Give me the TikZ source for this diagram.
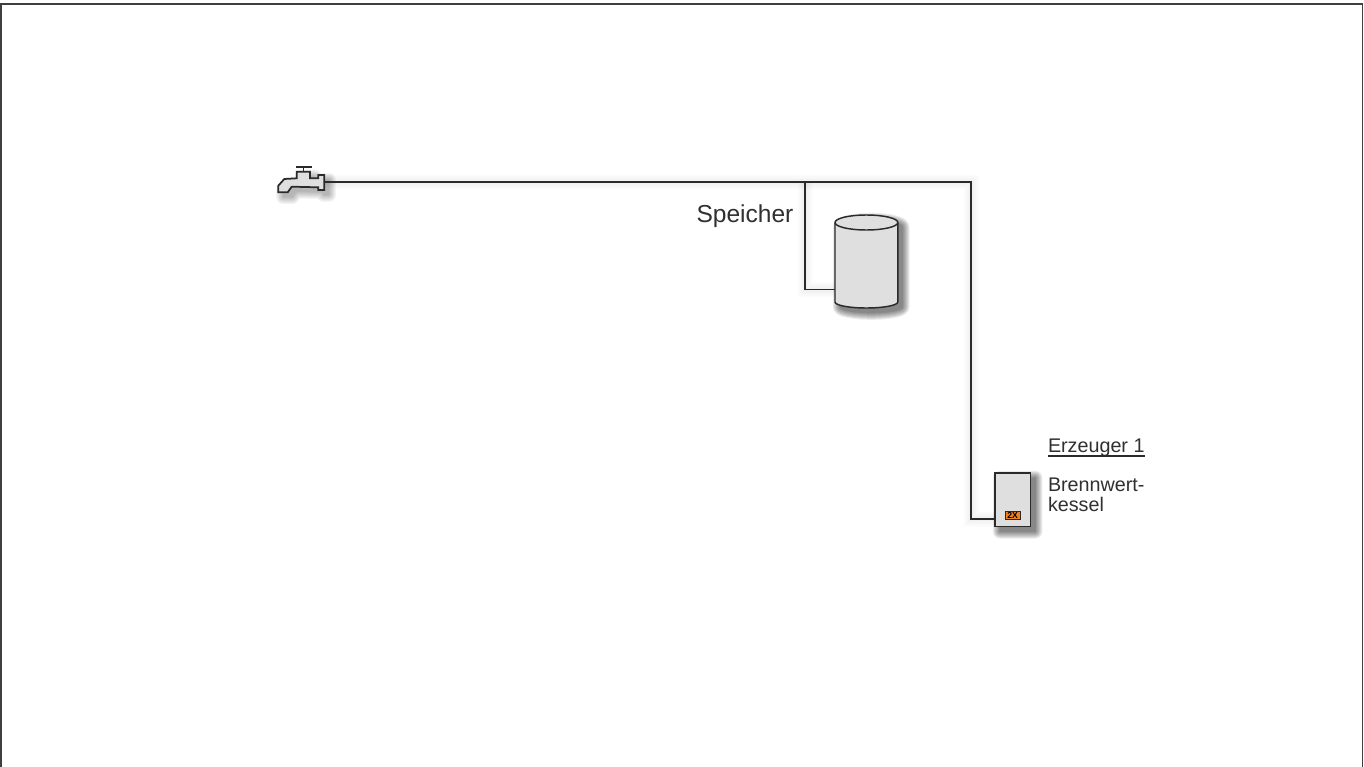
\documentclass[tikz,border=0pt]{standalone}
\usepackage{fontspec}
\setmainfont{Liberation Sans}
\definecolor{ink}{HTML}{2A2A2A}
\definecolor{txt}{HTML}{303030}
\definecolor{body}{HTML}{DFDFDF}
\definecolor{heat}{HTML}{F08020}
\tikzset{
  pipe/.style={draw=ink,line width=1.1pt,line join=miter},
  frameline/.style={draw=ink!90,line width=1.2pt},
  outline/.style={draw=ink,line width=1.1pt,fill=body,line join=miter},
  label/.style={inner sep=0pt,outer sep=0pt,text=txt,anchor=base west},
}
% soft drop shadow of a line or a shape, built from translucent layers
\newcommand{\softline}[2]{%
  \foreach \w in {15,12,9,6,3}{\path[draw=black,opacity=#2,line width=\w*0.75pt,xshift=4.5pt,yshift=-5.5pt] #1;}}
\newcommand{\softshape}[2]{%
  \foreach \w in {14,12,10,8,6,4,2,0.5}{\begin{scope}[transparency group,opacity=#2,xshift=3.6pt,yshift=-3.6pt]\path[draw=black,fill=black,line width=\w*0.75pt,line join=round] #1;\end{scope}}}
\begin{document}
\begin{tikzpicture}[x=0.75pt,y=-0.75pt]
\useasboundingbox (0,0) rectangle (1364,767);
\fill[white] (0,0) rectangle (1364,767);

% coordinates of the pipe run
\coordinate (tapout) at (324.5,182);
\coordinate (branch) at (805,182);
\coordinate (corner) at (971,182);
\coordinate (tankin) at (835,289.5);
\coordinate (boilin) at (995,519);
\coordinate (frameTL) at (1.2,4);
\coordinate (frameTR) at (1362.5,4);
\coordinate (frameBL) at (1.2,767);
\coordinate (frameBR) at (1362.5,767);

% shadows
\softline{(tapout) -- (corner) -- (corner |- boilin) -- (boilin)}{0.01}
\softline{(branch) -- (branch |- tankin) -- (tankin)}{0.01}
\softshape{(835,222.5) -- (835,302) arc[start angle=180,end angle=0,x radius=31.4,y radius=6] -- (897.8,222.5) arc[start angle=0,end angle=-180,x radius=31.4,y radius=7.5] -- cycle}{0.075}
\softshape{(995,473) rectangle (1030.5,526.7)}{0.075}
\softshape{(278.3,192.3) -- (278.3,185.7) -- (284.3,179) -- (296.7,178.3) -- (296.7,171.7) -- (310,171.7) -- (310,178.3) -- (318.3,178.3) -- (318.3,175) -- (324.3,175) -- (324.3,190) -- (318.3,190) -- (318.3,187.3) -- (291.7,186.7) -- (287.7,192.3) -- cycle}{0.04}

% frame
\draw[frameline] (frameBL) -- (frameTL) -- (frameTR) -- (frameBR);

% pipes
\draw[pipe] (tapout) -- (corner) -- (corner |- boilin) -- (boilin);
\draw[pipe] (branch) -- (branch |- tankin) -- (tankin);

% tap
\node[inner sep=0pt,minimum size=0pt] (tap) at (301,180) {};
\draw[outline,line width=1.3pt] (278.3,192.3) -- (278.3,185.7) -- (284.3,179) -- (296.7,178.3) -- (296.7,171.7) -- (310,171.7) -- (310,178.3) -- (318.3,178.3) -- (318.3,175) -- (324.3,175) -- (324.3,190) -- (318.3,190) -- (318.3,187.3) -- (291.7,186.7) -- (287.7,192.3) -- cycle;
\draw[pipe,line width=1.3pt] (303.5,171.7) -- (303.5,167) (295.5,167) -- (311.5,167);

% storage tank
\node[inner sep=0pt,minimum size=0pt] (tank) at (866.4,262) {};
\draw[outline] (835,222.5) -- (835,302) arc[start angle=180,end angle=0,x radius=31.4,y radius=6] -- (897.8,222.5) arc[start angle=0,end angle=-180,x radius=31.4,y radius=7.5] -- cycle;
\draw[draw=ink,line width=1.1pt] (835,222.5) arc[start angle=180,end angle=0,x radius=31.4,y radius=7.5];

% boiler
\node[outline,inner sep=0pt,minimum width=26.6pt,minimum height=40.3pt,outer sep=0pt] (boiler) at (1012.75,499.85) {};
\node[fill=heat,draw=ink,line width=0.6pt,inner sep=0pt,minimum width=11pt,minimum height=5.8pt,font=\fontsize{6.5pt}{6.5pt}\selectfont\bfseries,text=black] (burner) at (1012.6,515.6) {2X};

% texts
\node[label,font=\fontsize{18.4pt}{20pt}\selectfont] (speicher) at (696.5,222) {Speicher};
\node[label,font=\fontsize{14.8pt}{16pt}\selectfont] (erz) at (1048,452) {Erzeuger 1};
\draw[draw=ink,line width=0.8pt] ([yshift=-3pt]erz.base west) -- ([yshift=-3pt]erz.base east);
\node[label,font=\fontsize{14.8pt}{16pt}\selectfont] (bw) at (1048,491.5) {Brennwert-};
\node[label,font=\fontsize{14.8pt}{16pt}\selectfont] (ks) at (1048,511.5) {kessel};
\end{tikzpicture}
\end{document}
